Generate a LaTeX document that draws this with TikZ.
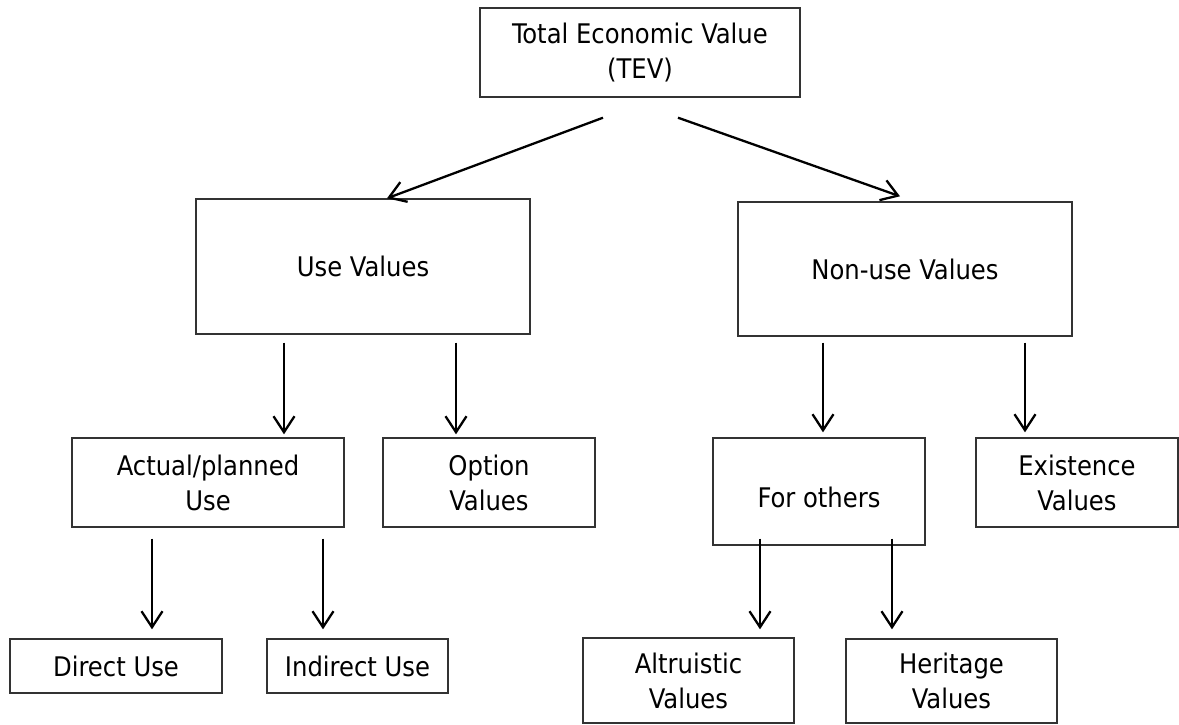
\documentclass[tikz,border=0pt]{standalone}
\usepackage{fontspec}
\setmainfont{DejaVu Sans Condensed}
\usetikzlibrary{arrows.meta,calc}
\definecolor{edge}{HTML}{333333}
\begin{document}
\begin{tikzpicture}[x=1pt,y=-1pt,
  lbl/.style={font=\fontsize{27}{35}\selectfont,text=black,align=center,inner sep=0pt},
  box/.style={lbl,draw=edge,line width=1.4pt},
  arr/.style={line width=2.3pt,-{Straight Barb[length=16pt,width=21pt,line width=2.3pt]}}]
\fill[white] (0,0) rectangle (1179,725);
\useasboundingbox (0,0) rectangle (1179,725);

\node[box,minimum width=320,minimum height=89] (tev) at (640,52.5) {Total Economic Value\\(TEV)};
\node[box,minimum width=334,minimum height=135] (use) at (363,266.5) {Use Values};
\node[box,minimum width=334,minimum height=134] (non) at (905,269) {Non-use Values};
\node[box,minimum width=272,minimum height=89] (act) at (208,482.5) {Actual/planned\\Use};
\node[box,minimum width=212,minimum height=89] (opt) at (489,482.5) {Option\\Values};
\node[box,minimum width=212,minimum height=107] (oth) at (819,491.5) {};
\node[lbl] (othtxt) at ($(oth.center)+(0,6)$) {For others};
\node[box,minimum width=202,minimum height=89] (exi) at (1077,482.5) {Existence\\Values};
\node[box,minimum width=212,minimum height=54] (dir) at (116,666) {Direct Use};
\node[box,minimum width=181,minimum height=54] (ind) at (357.5,666) {Indirect Use};
\node[box,minimum width=211,minimum height=85] (alt) at (688.5,680.5) {Altruistic\\Values};
\node[box,minimum width=211,minimum height=84] (her) at (951.5,681) {Heritage\\Values};

\draw[arr] ($(tev.south)+(-37,20)$) -- ($(use.north)+(24,0)$);
\draw[arr] ($(tev.south)+(38,20)$) -- ($(non.north)+(-5,-5)$);
\draw[arr] ($(use.south)+(-79,8)$) -- ($(act.north)+(76,-3)$);
\draw[arr] ($(use.south)+(93,8)$) -- ($(opt.north)+(-33,-3)$);
\draw[arr] ($(non.south)+(-82,6)$) -- ($(oth.north)+(4,-5)$);
\draw[arr] ($(non.south)+(120,6)$) -- ($(exi.north)+(-52,-5)$);
\draw[arr] ($(act.south)+(-56,11)$) -- ($(dir.north)+(36,-9)$);
\draw[arr] ($(act.south)+(115,11)$) -- ($(ind.north)+(-34.5,-9)$);
\draw[arr] ($(oth.south)+(-59,-7)$) -- ($(alt.north)+(71.5,-8)$);
\draw[arr] ($(oth.south)+(73,-7)$) -- ($(her.north)+(-59.5,-9)$);
\end{tikzpicture}
\end{document}
